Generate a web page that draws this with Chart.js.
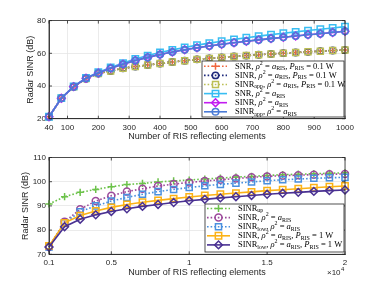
<!DOCTYPE html>
<html><head><meta charset="utf-8">
<script src="https://cdn.jsdelivr.net/npm/chart.js@4"></script>
<style>
html,body{margin:0;padding:0;background:#fff;width:382px;height:286px;overflow:hidden}
canvas{position:absolute;left:0}
#c1{top:0}#c2{top:143px}
</style></head><body>
<canvas id="c1" width="382" height="143"></canvas>
<canvas id="c2" width="382" height="143"></canvas>
<script>
// ---------- data (top panel) ----------
const topN = [40,80,120,160,200,240,280,320,360,400,440,480,520,560,600,640,680,720,760,800,840,880,920,960,1000];
const topXTicks = [40,100,200,300,400,500,600,700,800,900,1000];
const topYTicks = [20,40,60,80];
const snrP01 =    [21.2,32.5,39.5,44.5,47.6,49.2,50.8,51.9,52.8,53.8,54.7,55.5,56.3,56.9,57.5,58.1,58.6,59.1,59.6,60.1,60.5,60.9,61.3,61.7,62.0];
const sinrP01 =   [21.2,32.5,39.5,44.5,47.6,49.2,50.8,51.9,52.8,53.8,54.7,55.5,56.3,56.9,57.5,58.1,58.6,59.1,59.6,60.1,60.5,60.9,61.3,61.7,62.0];
const sinrAppP01 =[21.2,32.5,39.5,44.5,47.6,49.2,50.8,51.9,52.8,53.8,54.7,55.5,56.3,56.9,57.5,58.1,58.6,59.1,59.6,60.1,60.5,60.9,61.3,61.7,62.0];
const snrA =      [21.2,32.6,39.8,45.0,48.4,51.3,54.0,56.5,58.6,60.5,62.1,63.6,65.0,66.2,67.4,68.5,69.5,70.5,71.4,72.3,73.1,73.9,74.7,75.5,76.3];
const sinrA =     [21.2,32.5,39.6,44.7,47.9,50.8,53.3,55.6,57.5,59.3,60.8,62.2,63.4,64.5,65.5,66.5,67.4,68.2,69.0,69.8,70.6,71.3,72.0,72.7,73.5];
const sinrAppA =  [21.2,32.5,39.6,44.7,47.9,50.8,53.3,55.6,57.5,59.3,60.8,62.2,63.4,64.5,65.5,66.5,67.4,68.2,69.0,69.8,70.6,71.3,72.0,72.7,73.5];

// ---------- data (bottom panel) ----------
const botN = [1000,2000,3000,4000,5000,6000,7000,8000,9000,10000,11000,12000,13000,14000,15000,16000,17000,18000,19000,20000];
const botXTicks = [1000,5000,10000,15000,20000];
const botYTicks = [70,80,90,100,110];
const sinrUp =    [90.8,93.8,95.6,96.8,97.9,98.8,99.3,99.9,100.3,100.7,101.1,101.5,101.9,102.2,102.6,102.9,103.1,103.3,103.5,103.7];
const sinrB =     [73.0,83.5,88.6,92.0,94.2,95.9,97.1,98.2,99.0,99.7,100.3,100.8,101.3,101.8,102.2,102.5,102.7,102.9,103.1,103.2];
const sinrLowB =  [73.0,83.0,87.6,90.0,92.0,93.5,94.8,95.9,96.8,97.6,98.3,98.9,99.4,99.9,100.4,100.8,101.1,101.4,101.6,101.8];
const sinr1W =    [73.5,83.0,86.0,87.9,89.4,90.6,91.5,92.3,93.0,93.7,94.3,94.8,95.3,95.8,96.3,96.7,97.1,97.5,97.9,98.2];
const sinrLow1W = [73.0,81.4,84.5,86.3,87.7,88.8,89.8,90.6,91.4,92.1,92.7,93.3,93.8,94.3,94.8,95.2,95.6,96.0,96.3,96.6];

// ---------- legend texts ----------
const rhoA = [['ρ','i'],['2','sup'],[' = ','n'],['a','i'],['RIS','sub']];
const pRIS01 = [[', ','n'],['P','i'],['RIS','sub'],[' = 0.1 W','n']];
const pRIS1 = [[', ','n'],['P','i'],['RIS','sub'],[' = 1 W','n']];
const topLabels = [
  [['SNR, ','n'],...rhoA,...pRIS01],
  [['SINR, ','n'],...rhoA,...pRIS01],
  [['SINR','n'],['app','sub'],[', ','n'],...rhoA,...pRIS01],
  [['SNR, ','n'],...rhoA],
  [['SINR, ','n'],...rhoA],
  [['SINR','n'],['app','sub'],[', ','n'],...rhoA]
];
const botLabels = [
  [['SINR','n'],['up','sub']],
  [['SINR, ','n'],...rhoA],
  [['SINR','n'],['low','sub'],[', ','n'],...rhoA],
  [['SINR, ','n'],...rhoA,...pRIS1],
  [['SINR','n'],['low','sub'],[', ','n'],...rhoA,...pRIS1]
];

const SANS = '"Liberation Sans", Arial, Helvetica, sans-serif';
const SERIF = '"Liberation Serif", "DejaVu Serif", serif';
const TXT = '#262626';
const DOT = [1.6, 2.0];

function mkSeries(xs, ys, color, dash, style, r, order) {
  return {
    data: xs.map((x, i) => ({x: x, y: ys[i]})),
    borderColor: color, backgroundColor: color, borderWidth: 1.6,
    borderDash: dash, pointStyle: style, pointRadius: r, pointHoverRadius: r,
    pointBorderWidth: 1.5, pointBackgroundColor: 'rgba(0,0,0,0)', pointBorderColor: color,
    tension: 0, clip: false, order: order, _legendStyle: {color, dash, style, r}
  };
}

function marker(ctx, style, x, y, r) {
  ctx.beginPath();
  if (style === 'circle') ctx.arc(x, y, r, 0, 2 * Math.PI);
  else if (style === 'rect') { const s = r * Math.SQRT1_2; ctx.rect(x - s, y - s, 2 * s, 2 * s); }
  else if (style === 'rectRot') { ctx.moveTo(x, y - r); ctx.lineTo(x + r, y); ctx.lineTo(x, y + r); ctx.lineTo(x - r, y); ctx.closePath(); }
  else if (style === 'cross') { ctx.moveTo(x - r, y); ctx.lineTo(x + r, y); ctx.moveTo(x, y - r); ctx.lineTo(x, y + r); }
  ctx.stroke();
}

function richText(ctx, segs, x, y, F) {
  let cx = x;
  for (const [t, k] of segs) {
    let size = F, dy = 0, style = '';
    if (k === 'i') style = 'italic ';
    if (k === 'sub') { size = F * 0.7; dy = F * 0.28; }
    if (k === 'sup') { size = F * 0.7; dy = -F * 0.35; }
    ctx.font = style + size + 'px ' + SERIF;
    ctx.fillText(t, cx, y + dy);
    cx += ctx.measureText(t).width;
  }
}

const matlabPlugin = {
  id: 'matlab',
  afterDraw(chart, args, o) {
    const ctx = chart.ctx, a = chart.chartArea;
    ctx.save();
    ctx.strokeStyle = TXT; ctx.lineWidth = 0.8; ctx.setLineDash([]);
    const xs = chart.scales.x, ys = chart.scales.y;
    xs.ticks.forEach(t => {
      const p = xs.getPixelForValue(t.value);
      ctx.beginPath(); ctx.moveTo(p, a.bottom); ctx.lineTo(p, a.bottom - 3);
      ctx.moveTo(p, a.top); ctx.lineTo(p, a.top + 3); ctx.stroke();
    });
    ys.ticks.forEach(t => {
      const p = ys.getPixelForValue(t.value);
      ctx.beginPath(); ctx.moveTo(a.left, p); ctx.lineTo(a.left + 3, p);
      ctx.moveTo(a.right, p); ctx.lineTo(a.right - 3, p); ctx.stroke();
    });
    ctx.strokeRect(a.left, a.top, a.right - a.left, a.bottom - a.top);
    const L = o.legend;
    ctx.fillStyle = '#fff';
    ctx.fillRect(L.x0, L.y0, L.x1 - L.x0, L.y1 - L.y0);
    ctx.strokeStyle = TXT; ctx.lineWidth = 0.8;
    ctx.strokeRect(L.x0, L.y0, L.x1 - L.x0, L.y1 - L.y0);
    chart.data.datasets.forEach((d, i) => {
      const s = d._legendStyle, y = L.row0 + i * L.dy;
      ctx.strokeStyle = s.color; ctx.lineWidth = 1.6; ctx.setLineDash(s.dash);
      ctx.beginPath(); ctx.moveTo(L.lx0, y); ctx.lineTo(L.lx1, y); ctx.stroke();
      ctx.setLineDash([]); ctx.lineWidth = 1.5;
      marker(ctx, s.style, (L.lx0 + L.lx1) / 2, y, s.r);
      ctx.fillStyle = '#000'; ctx.textBaseline = 'middle'; ctx.textAlign = 'left';
      richText(ctx, L.labels[i], L.tx, y, L.F);
    });
    if (o.exp) {
      ctx.fillStyle = TXT; ctx.textBaseline = 'middle'; ctx.textAlign = 'left';
      ctx.font = '8px ' + SANS;
      ctx.fillText('×10', o.exp.x, o.exp.y);
      const w = ctx.measureText('×10').width;
      ctx.font = '6px ' + SANS;
      ctx.fillText('4', o.exp.x + w + 0.5, o.exp.y - 3.5);
    }
    ctx.restore();
  }
};

function makeOptions(cfg) {
  return {
    responsive: false, animation: false, devicePixelRatio: 1,
    layout: {padding: {left: 0, right: 37, top: cfg.top, bottom: 0}},
    plugins: {legend: {display: false}, tooltip: {enabled: false}, matlab: cfg.plugin},
    scales: {
      x: {
        type: 'linear', min: cfg.xmin, max: cfg.xmax,
        afterBuildTicks: s => { s.ticks = cfg.xticks.map(v => ({value: v})); },
        afterFit: s => { s.height = cfg.xh; },
        grid: {color: '#e6e6e6', lineWidth: 0.8, drawTicks: false},
        border: {color: TXT, width: 0.8},
        ticks: {font: {family: SANS, size: 8}, color: TXT, padding: 4, maxRotation: 0, autoSkip: false,
                callback: cfg.xcb || (v => String(v))},
        title: {display: true, text: 'Number of RIS reflecting elements', color: TXT,
                font: {family: SANS, size: 9}, padding: {top: 0, bottom: cfg.xtp}}
      },
      y: {
        min: cfg.ymin, max: cfg.ymax,
        afterBuildTicks: s => { s.ticks = cfg.yticks.map(v => ({value: v})); },
        afterFit: s => { s.width = 49; },
        grid: {color: '#e6e6e6', lineWidth: 0.8, drawTicks: false},
        border: {color: TXT, width: 0.8},
        ticks: {font: {family: SANS, size: 8}, color: TXT, padding: 3},
        title: {display: true, text: 'Radar SINR (dB)', color: TXT,
                font: {family: SANS, size: 9}, padding: {top: cfg.ytp, bottom: 0}}
      }
    }
  };
}

new Chart(document.getElementById('c1'), {
  type: 'line',
  data: {datasets: [
    mkSeries(topN, snrP01, '#f0663f', DOT, 'cross', 3.5, 6),
    mkSeries(topN, sinrP01, '#1f2a7c', DOT, 'circle', 3.2, 5),
    mkSeries(topN, sinrAppP01, '#bcbf55', DOT, 'rect', 4.2, 4),
    mkSeries(topN, snrA, '#38bdf2', [], 'rect', 4.5, 3),
    mkSeries(topN, sinrA, '#c21cf0', [], 'rectRot', 3.9, 2),
    mkSeries(topN, sinrAppA, '#4a7bd6', [], 'circle', 3.3, 1)
  ]},
  options: makeOptions({top: 20.6, xmin: 40, xmax: 1000, xticks: topXTicks, xh: 24.3, xtp: 1,
    ymin: 20, ymax: 80, yticks: topYTicks, ytp: 25,
    plugin: {legend: {x0: 202, x1: 344, y0: 61, y1: 117, row0: 66.3, dy: 9.1, lx0: 204, lx1: 227, tx: 235, F: 8.5, labels: topLabels}}}),
  plugins: [matlabPlugin]
});

new Chart(document.getElementById('c2'), {
  type: 'line',
  data: {datasets: [
    mkSeries(botN, sinrUp, '#6cc24a', DOT, 'cross', 3.6, 5),
    mkSeries(botN, sinrB, '#9c4a9b', DOT, 'circle', 3.5, 4),
    mkSeries(botN, sinrLowB, '#4a90de', DOT, 'rect', 4.3, 3),
    mkSeries(botN, sinr1W, '#fbb216', [], 'rect', 4.5, 2),
    mkSeries(botN, sinrLow1W, '#4a3192', [], 'rectRot', 3.9, 1)
  ]},
  options: makeOptions({top: 14.5, xmin: 1000, xmax: 20000, xticks: botXTicks, xh: 31.7, xtp: 7.6,
    xcb: v => String(v / 10000),
    ymin: 70, ymax: 110, yticks: botYTicks, ytp: 20.6,
    plugin: {legend: {x0: 205, x1: 344, y0: 61, y1: 109, row0: 65.5, dy: 9.1, lx0: 207, lx1: 230, tx: 238, F: 8.5, labels: botLabels},
             exp: {x: 327, y: 130}}}),
  plugins: [matlabPlugin]
});
</script>
</body></html>
